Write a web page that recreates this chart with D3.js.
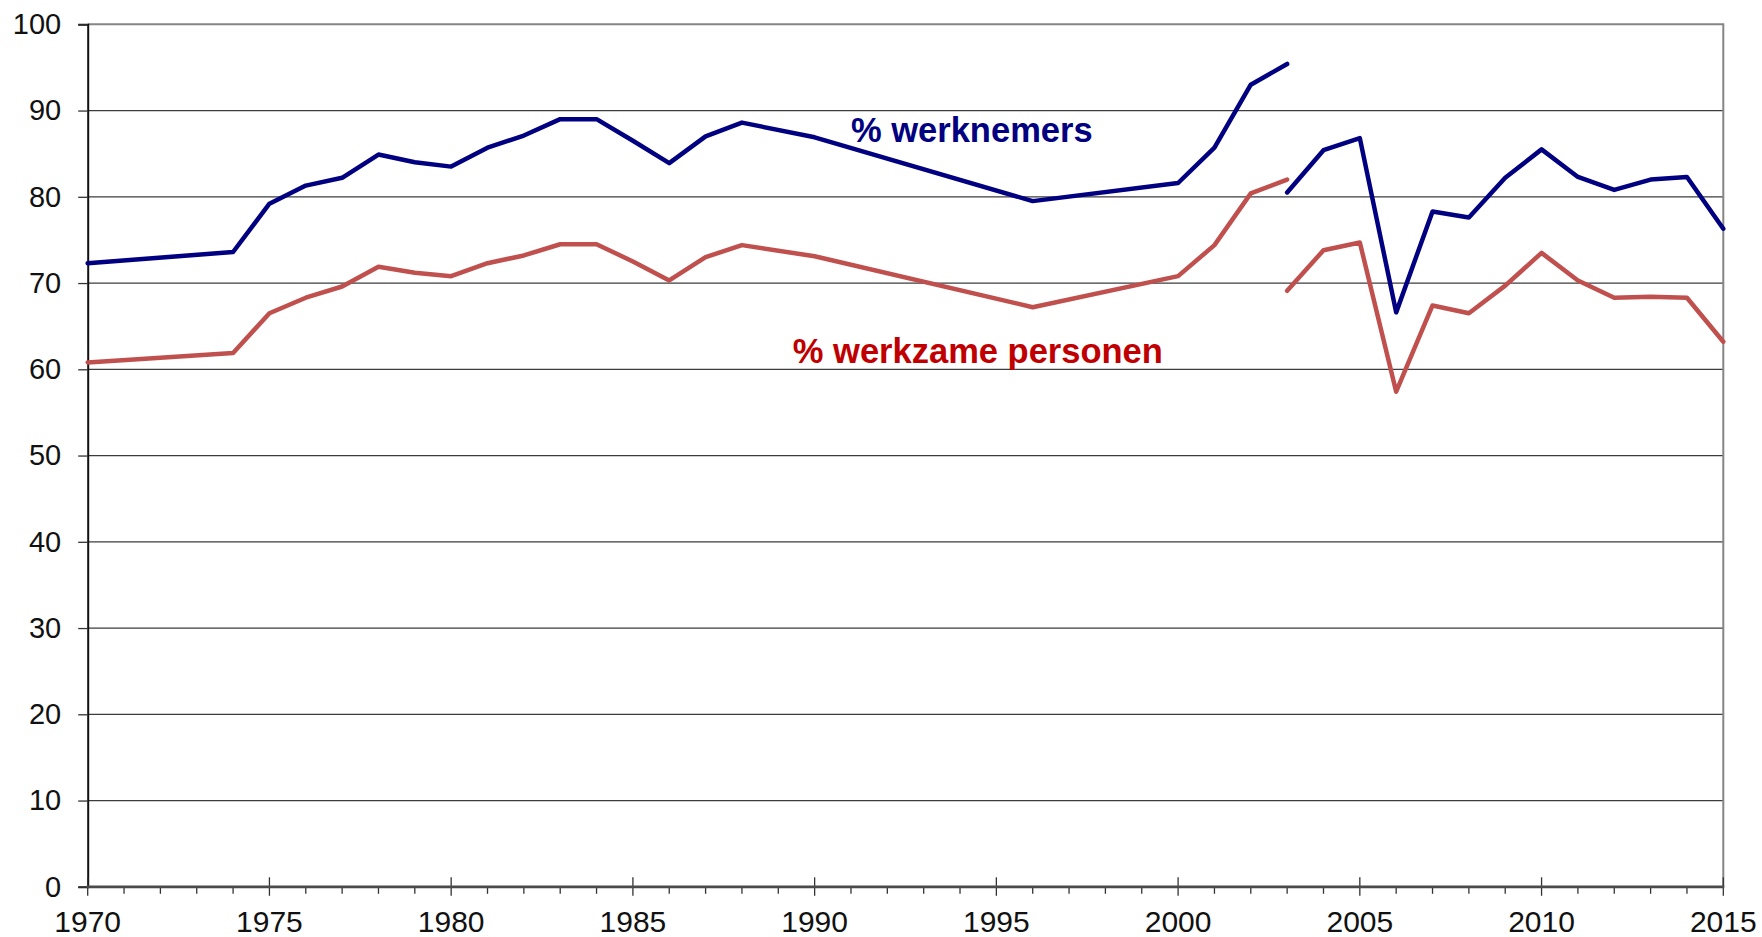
<!DOCTYPE html>
<html lang='nl'>
<head>
  <meta charset="utf-8"/>
  <title>Werknemers en werkzame personen</title>
  <script src="https://d3js.org/d3.v7.min.js"></script>
  <style>
    body { margin: 0; background: #fff; }
    svg text { font-family: "Liberation Sans", Arial, sans-serif; }
  </style>
</head>
<body>
  <div id='chart'></div>

  <script>
    // data (series break in 2003)
    var years1 = [1970, 1974, 1975, 1976, 1977, 1978, 1979, 1980, 1981, 1982, 1983, 1984,
                  1985, 1986, 1987, 1988, 1990, 1996, 2000, 2001, 2002, 2003];
    var werknemers1 = [72.3, 73.6, 79.2, 81.3, 82.2, 84.9, 84.0, 83.5, 85.7, 87.1, 89.0, 89.0,
                       86.5, 83.9, 87.0, 88.6, 86.9, 79.5, 81.6, 85.7, 93.0, 95.4];
    var werkzamen1 = [60.8, 61.9, 66.5, 68.3, 69.6, 71.9, 71.2, 70.8, 72.3, 73.2, 74.5, 74.5,
                      72.5, 70.3, 73.0, 74.4, 73.1, 67.2, 70.8, 74.4, 80.4, 82.0];

    var years2 = [2003, 2004, 2005, 2006, 2007, 2008, 2009, 2010, 2011, 2012, 2013, 2014, 2015];
    var werknemers2 = [80.5, 85.4, 86.8, 66.6, 78.3, 77.6, 82.2, 85.5, 82.3, 80.8, 82.0, 82.3, 76.3];
    var werkzamen2 = [69.1, 73.8, 74.7, 57.4, 67.4, 66.5, 69.7, 73.5, 70.3, 68.3, 68.4, 68.3, 63.2];

    var yTicks = [0, 10, 20, 30, 40, 50, 60, 70, 80, 90, 100];
    var xTicks = [1970, 1975, 1980, 1985, 1990, 1995, 2000, 2005, 2010, 2015];
    var minorYears = d3.range(1970, 2016);

    var labels = [
      { text: '% werknemers', year: 1991.0, value: 86.3, color: '#000080' },
      { text: '% werkzame personen', year: 1989.4, value: 60.7, color: '#C00000' }
    ];

    var width = 1762,
        height = 937;
    var margin = { top: 24.3, right: 38.7, bottom: 50.2, left: 87.7 };

    var svg = d3.select('#chart')
                .append('svg')
                .attr('width', width)
                .attr('height', height);

    var x = d3.scaleLinear()
              .domain([1970, 2015])
              .range([margin.left, width - margin.right]);

    var y = d3.scaleLinear()
              .domain([0, 100])
              .range([height - margin.bottom, margin.top]);

    // horizontal gridlines
    svg.append('g')
       .selectAll('line')
       .data(yTicks.filter(d => d > 0 && d < 100))
       .enter()
       .append('line')
       .attr('x1', x(1970))
       .attr('x2', x(2015))
       .attr('y1', d => y(d))
       .attr('y2', d => y(d))
       .attr('stroke', '#3c3c3c')
       .attr('stroke-width', 1.3);

    // plot area border, top and right
    svg.append('path')
       .attr('d', 'M' + x(1970) + ',' + y(100) + 'H' + x(2015) + 'V' + y(0))
       .attr('fill', 'none')
       .attr('stroke', '#858585')
       .attr('stroke-width', 2);

    // y axis
    var yAxis = d3.axisLeft(y)
                  .tickValues(yTicks)
                  .tickSize(9.5)
                  .tickPadding(17);

    var gy = svg.append('g')
                .attr('transform', 'translate(' + margin.left + ',0)')
                .call(yAxis);
    gy.select('.domain').attr('stroke', '#111').attr('stroke-width', 2);
    gy.selectAll('.tick line').attr('stroke', '#333').attr('stroke-width', 1.3);
    gy.selectAll('.tick text')
      .attr('font-size', 29)
      .attr('fill', '#111')
      .attr('font-family', '"Liberation Sans", Arial, sans-serif');

    // x axis : minor ticks every year, major ticks every 5 years
    var gx = svg.append('g');

    gx.selectAll('line.minor')
      .data(minorYears.filter(d => d % 5 != 0))
      .enter()
      .append('line')
      .attr('class', 'minor')
      .attr('x1', d => x(d))
      .attr('x2', d => x(d))
      .attr('y1', y(0))
      .attr('y2', y(0) + 7)
      .attr('stroke', '#333')
      .attr('stroke-width', 1.3);

    gx.selectAll('line.major')
      .data(xTicks)
      .enter()
      .append('line')
      .attr('class', 'major')
      .attr('x1', d => x(d))
      .attr('x2', d => x(d))
      .attr('y1', y(0) - 9.5)
      .attr('y2', y(0) + 9)
      .attr('stroke', '#333')
      .attr('stroke-width', 1.3);

    gx.append('line')
      .attr('x1', x(1970) - 1)
      .attr('x2', x(2015) + 1)
      .attr('y1', y(0))
      .attr('y2', y(0))
      .attr('stroke', '#4a4a4a')
      .attr('stroke-width', 2.8);

    gx.selectAll('text')
      .data(xTicks)
      .enter()
      .append('text')
      .attr('x', d => x(d))
      .attr('y', y(0) + 45)
      .attr('text-anchor', 'middle')
      .attr('font-size', 30)
      .attr('fill', '#111')
      .text(d => d);

    // lines
    var line = d3.line()
                 .x(d => x(d[0]))
                 .y(d => y(d[1]));

    var series = [
      { years: years1, values: werknemers1, color: '#000080' },
      { years: years2, values: werknemers2, color: '#000080' },
      { years: years1, values: werkzamen1, color: '#C0504D' },
      { years: years2, values: werkzamen2, color: '#C0504D' }
    ];

    svg.append('g')
       .selectAll('path')
       .data(series)
       .enter()
       .append('path')
       .attr('d', s => line(d3.zip(s.years, s.values)))
       .attr('fill', 'none')
       .attr('stroke', s => s.color)
       .attr('stroke-width', 4.5)
       .attr('stroke-linejoin', 'round')
       .attr('stroke-linecap', 'round');

    // series labels
    svg.append('g')
       .selectAll('text')
       .data(labels)
       .enter()
       .append('text')
       .attr('x', d => x(d.year))
       .attr('y', d => y(d.value))
       .attr('font-size', 34.5)
       .attr('font-weight', 'bold')
       .attr('fill', d => d.color)
       .text(d => d.text);
  </script>
</body>
</html>
